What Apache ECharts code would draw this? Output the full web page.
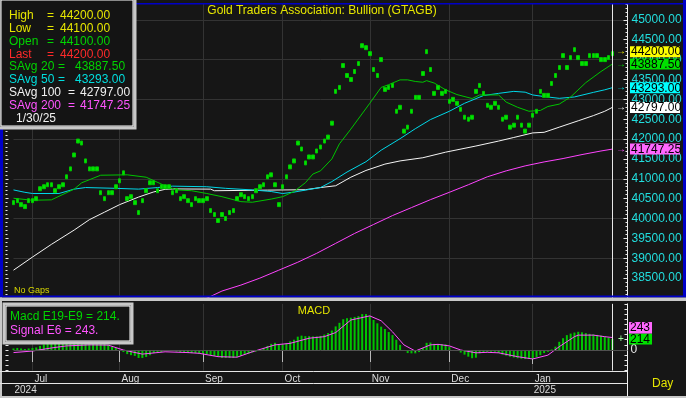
<!DOCTYPE html>
<html>
<head>
<meta charset="utf-8">
<title>Gold Traders Association: Bullion (GTAGB)</title>
<script src="https://cdn.jsdelivr.net/npm/echarts@6/dist/echarts.min.js"></script>
<style>
  html, body { margin: 0; padding: 0; background: #161616; }
  #chart { width: 686px; height: 398px; }
</style>
</head>
<body>
<div id="chart"></div>
<script>
// trading days per month shown on the chart (late Jun 2024 .. 30 Jan 2025)
const monthNames = ['Jun', 'Jul', 'Aug', 'Sep', 'Oct', 'Nov', 'Dec', 'Jan'];
const monthDays = [5, 23, 22, 21, 23, 21, 22, 22];
const yearNames = ['2024', '2025'];
const yearMonth = [0, 7]; // month index where each year label starts
const padDays = 4;

// daily bars (low / high)
const lows = [
  40350, 40400, 40300, 40250, 40400,
  40400, 40450, 40700, 40750, 40800, 40800, 40650, 40750, 40800, 41000, 41200, 41550, 41900, 41850, 41400, 41200, 41200, 41200, 40600, 40450, 40600, 40600, 40750,
  40900, 41100, 40450, 40500, 40350, 40100, 40400, 40650, 40850, 40850, 40650, 40750, 40750, 40750, 40600, 40650, 40450, 40500, 40400, 40300, 40450, 40400,
  40400, 40450, 40150, 40050, 39900, 40050, 39950, 40100, 40150, 40450, 40550, 40500, 40450, 40500, 40650, 40750, 40800, 41000, 41050, 40800, 40300,
  40750, 41000, 41250, 41400, 41850, 41700, 41350, 41500, 41500, 41650, 41750, 41900, 42000, 42350, 43150, 43250, 43800, 43550, 43450, 43650, 43850, 44300, 44250,
  44100, 43700, 43550, 43950, 43200, 43250, 43300, 42650, 42750, 42150, 42250, 42650, 43000, 43000, 43600, 44150, 43700, 43100, 43250, 43100, 43150,
  42900, 42950, 42850, 42700, 42500, 42450, 42500, 43150, 43300, 43100, 42800, 42750, 42850, 42750, 42450, 42500, 42250, 42300, 42500, 42300, 42150, 42300,
  42550, 42650, 43150, 43050, 43050, 43350, 43550, 43750, 44050, 43750, 44000, 44200, 44000, 43850, 43850, 44050, 44050, 44050, 43950, 43950, 44000, 44100
];
const highs = [
  40450, 40500, 40400, 40350, 40500,
  40500, 40550, 40800, 40850, 40900, 40900, 40750, 40850, 40900, 41100, 41300, 41650, 42000, 41950, 41500, 41300, 41300, 41300, 40700, 40550, 40700, 40700, 40850,
  41000, 41200, 40550, 40600, 40450, 40200, 40500, 40750, 40950, 40950, 40750, 40850, 40850, 40850, 40700, 40750, 40550, 40600, 40500, 40400, 40550, 40500,
  40500, 40550, 40250, 40150, 40000, 40150, 40050, 40200, 40250, 40550, 40650, 40600, 40550, 40600, 40750, 40850, 40900, 41100, 41150, 40900, 40400,
  40850, 41100, 41350, 41500, 41950, 41800, 41450, 41600, 41600, 41750, 41850, 42000, 42100, 42450, 43250, 43350, 43900, 43650, 43550, 43750, 43950, 44400, 44350,
  44200, 43800, 43650, 44050, 43300, 43350, 43400, 42750, 42850, 42250, 42350, 42750, 43100, 43100, 43700, 44250, 43800, 43200, 43350, 43200, 43250,
  43000, 43050, 42950, 42800, 42600, 42550, 42600, 43250, 43400, 43200, 42900, 42850, 42950, 42850, 42550, 42600, 42350, 42400, 42600, 42400, 42250, 42400,
  42650, 42750, 43250, 43150, 43150, 43450, 43650, 43850, 44150, 43850, 44100, 44300, 44100, 43950, 43950, 44150, 44150, 44150, 44050, 44050, 44100, 44200
];

// simple averages, read at [bar index, value]
const sAvg20 = [
  [0, 40510], [5, 40460], [10, 40470], [12, 40560], [16, 40740], [18, 40900], [23, 41090], [30, 41100],
  [35, 41040], [40, 40825], [43, 40720], [47, 40700], [51, 40630], [55, 40550], [60, 40425], [63, 40410],
  [68, 40490], [71, 40550], [74, 40680], [77, 40900], [79, 41120], [81, 41200], [84, 41500], [86, 41880],
  [89, 42250], [94, 42900], [97, 43300], [99, 43370], [102, 43490], [104, 43490], [106, 43450], [108, 43430],
  [109, 43470], [111, 43410], [114, 43240], [117, 43120], [121, 43020], [123, 43110], [128, 43110], [130, 42930],
  [133, 42800], [136, 42700], [139, 42720], [141, 42820], [144, 42880], [147, 43060], [151, 43420], [155, 43700],
  [158, 43887.5]
];
const sAvg50 = [
  [0, 40720], [3, 40660], [5, 40630], [12, 40630], [16, 40740], [19, 40780], [27, 40760], [33, 40740],
  [38, 40780], [42, 40815], [51, 40800], [56, 40760], [63, 40720], [68, 40680], [71, 40630], [74, 40665],
  [77, 40715], [81, 40780], [84, 40930], [88, 41170], [93, 41430], [97, 41720], [102, 42010], [106, 42260],
  [110, 42490], [115, 42700], [119, 42900], [124, 43095], [128, 43150], [132, 43200], [135, 43180], [137, 43110],
  [140, 43070], [144, 43025], [148, 43060], [153, 43175], [156, 43240], [158, 43293]
];
const sAvg100 = [
  [0, 38700], [5, 39030], [10, 39350], [16, 39710], [20, 39970], [24, 40160], [28, 40350], [33, 40540],
  [37, 40670], [40, 40735], [42, 40745], [52, 40740], [53, 40700], [67, 40715], [77, 40725], [81, 40780],
  [85, 40825], [89, 41040], [93, 41210], [98, 41370], [102, 41450], [108, 41530], [114, 41670], [122, 41825],
  [128, 41950], [132, 42040], [137, 42155], [140, 42170], [144, 42300], [149, 42460], [153, 42590], [156, 42700],
  [158, 42797]
];
const sAvg200 = [
  [50, 37950], [55, 38175], [60, 38325], [65, 38500], [70, 38700], [75, 38900], [80, 39125], [85, 39375],
  [90, 39625], [95, 39850], [100, 40075], [105, 40275], [110, 40475], [115, 40660], [120, 40850], [125, 41050],
  [130, 41200], [135, 41325], [140, 41425], [145, 41510], [150, 41610], [155, 41700], [158, 41747.25]
];

// MACD histogram (one per bar) and signal line
const macd = [
  30, 40, 30, 20, 30,
  40, 50, 80, 110, 130, 140, 120, 120, 130, 170, 230, 310, 400, 430, 400, 370, 330, 300, 240, 150, 100, 60, 40,
  -10, -40, -80, -100, -115, -155, -155, -135, -100, -60, -40, -40, -20, -20, -20, -30, -40, -40, -60, -60, -60, -70,
  -70, -80, -100, -115, -135, -155, -155, -155, -155, -135, -115, -90, -70, -50, -30, 0, 40, 80, 120, 140, 110,
  110, 130, 170, 200, 260, 280, 270, 270, 265, 265, 275, 300, 330, 380, 460, 530, 600, 620, 630, 645, 660, 700, 700,
  660, 585, 520, 455, 410, 350, 290, 200, 100, -10, -60, -65, -65, -40, 40, 140, 145, 120, 115, 115, 110,
  60, 0, -20, -50, -90, -130, -160, -150, -65, -40, -35, -35, -35, -60, -90, -110, -130, -145, -160, -170, -175, -175,
  -175, -140, -100, -60, -35, 10, 65, 160, 230, 290, 320, 340, 355, 345, 330, 315, 305, 295, 280, 260, 240, 214
];
const signal = [
  [0, -50], [5, -20], [10, 40], [14, 80], [20, 100], [25, 95], [29, 0], [34, -80], [40, -35], [46, -50],
  [49, -65], [54, -130], [59, -140], [63, -35], [69, 100], [73, 130], [78, 230], [82, 260], [85, 340], [89, 585],
  [94, 665], [97, 570], [100, 355], [103, 100], [106, -20], [110, 100], [112, 110], [115, 80], [118, 0], [122, -55],
  [125, -45], [128, -55], [133, -130], [137, -175], [141, -100], [144, 65], [148, 260], [149, 290], [153, 290],
  [156, 260], [158, 243]
];

// data window text
const legendRows = [
  ['High', '', '44200.00', '#e6e600'],
  ['Low', '', '44100.00', '#e6e600'],
  ['Open', '', '44100.00', '#00d400'],
  ['Last', '', '44200.00', '#ff2a2a'],
  ['SAvg', '20', '43887.50', '#00d400'],
  ['SAvg', '50', '43293.00', '#00dede'],
  ['SAvg', '100', '42797.00', '#f0f0f0'],
  ['SAvg', '200', '41747.25', '#ff55ff']
];
const legendDate = '1/30/25';
const lastTags = [
  [44200.00, '#ffff00'],
  [43887.50, '#00e000'],
  [43293.00, '#00ffff'],
  [42797.00, '#ffffff'],
  [41747.25, '#ff66ff']
];
const macdLast = 214;
const signalLast = 243;

const FONT = "'Liberation Sans', Arial, sans-serif";
const BG = '#161616';
const GRID = '#333333';

// categories
const cats = [];
const monthStart = new Set();
const monthOf = [];
monthDays.forEach((n, m) => {
  for (let d = 0; d < n; d++) {
    if (d === 0 && m > 0) monthStart.add(cats.length);
    monthOf.push(m);
    cats.push(monthNames[m] + '-' + (d + 1) + '-' + m);
  }
});
const lastIdx = cats.length - 1;
for (let k = 0; k < padDays; k++) { cats.push('pad' + k); monthOf.push(-1); }
const yearStart = {};
yearMonth.forEach((m, k) => {
  const idx = monthOf.indexOf(m);
  yearStart[idx] = yearNames[k];
});

const chart = echarts.init(document.getElementById('chart'));

const hiddenAxis = { axisLine: { show: false }, axisTick: { show: false }, axisLabel: { show: false }, splitLine: { show: false } };
const tickStyle = { color: '#e8e8e8', width: 1 };

chart.setOption({
  animation: false,
  backgroundColor: BG,
  grid: [
    { left: 13.5, width: 614, top: -2, height: 300 },
    { left: 13.5, width: 614, top: 303.85, height: 66.67 }
  ],
  xAxis: [
    {
      type: 'category', gridIndex: 0, data: cats, boundaryGap: false,
      axisLine: { show: false }, axisTick: { show: false }, axisLabel: { show: false },
      splitLine: { show: true, interval: (i) => monthStart.has(i), lineStyle: { color: GRID } }
    },
    {
      type: 'category', gridIndex: 1, data: cats, boundaryGap: false, position: 'bottom',
      axisLine: { show: false },
      axisTick: { show: true, interval: (i) => monthStart.has(i), length: 12, lineStyle: { color: '#b8b8b8' } },
      axisLabel: {
        show: true, interval: (i) => monthStart.has(i), formatter: (v, i) => monthNames[monthOf[i]],
        align: 'left', margin: 4, padding: [0, 0, 0, 2], color: '#dcdcdc', fontSize: 10, fontFamily: FONT
      },
      splitLine: { show: true, interval: (i) => monthStart.has(i), lineStyle: { color: GRID } }
    },
    {
      type: 'category', gridIndex: 1, data: cats, boundaryGap: false, position: 'bottom', offset: 13,
      axisLine: { show: false },
      axisTick: { show: true, interval: (i) => yearStart[i] !== undefined && i > 0, length: 14, lineStyle: { color: '#b8b8b8' } },
      axisLabel: {
        show: true, interval: (i) => yearStart[i] !== undefined, formatter: (v, i) => yearStart[i] || '',
        align: 'left', margin: 2, padding: [0, 0, 0, 1], color: '#dcdcdc', fontSize: 10, fontFamily: FONT
      },
      splitLine: { show: false }
    }
  ],
  yAxis: [
    {
      type: 'value', gridIndex: 0, position: 'right', min: 38000, max: 45500, interval: 500,
      axisLine: { show: true, lineStyle: { color: '#f0f0f0' } },
      axisTick: { show: true, inside: true, length: 4, lineStyle: tickStyle },
      minorTick: { show: true, splitNumber: 5, length: 2, lineStyle: tickStyle },
      axisLabel: {
        show: true, margin: 4, showMinLabel: false, showMaxLabel: false,
        formatter: (v) => v.toFixed(2), color: '#22dede', fontSize: 12, fontFamily: FONT
      },
      splitLine: { show: false }
    },
    Object.assign({ type: 'value', gridIndex: 0, position: 'right', min: 38000, max: 45500, interval: 1000 }, hiddenAxis,
      { splitLine: { show: true, lineStyle: { color: GRID } } }),
    {
      type: 'value', gridIndex: 0, position: 'left', offset: 8, min: 38000, max: 45500, interval: 500,
      axisLine: { show: false },
      axisTick: { show: true, inside: true, length: 3, lineStyle: tickStyle },
      minorTick: { show: true, splitNumber: 5, length: 2, lineStyle: tickStyle },
      axisLabel: { show: false }, splitLine: { show: false }
    },
    {
      type: 'value', gridIndex: 1, position: 'right', min: -400, max: 900, interval: 100,
      axisLine: { show: true, lineStyle: { color: '#f0f0f0' } },
      axisTick: { show: true, inside: true, length: 3, lineStyle: tickStyle },
      axisLabel: { show: true, margin: 3, formatter: (v) => (v === 0 ? '0' : ''), color: '#e8e8e8', fontSize: 12, fontFamily: FONT },
      splitLine: { show: false }
    },
    {
      type: 'value', gridIndex: 1, position: 'left', offset: 8, min: -400, max: 900, interval: 100,
      axisLine: { show: false },
      axisTick: { show: true, inside: true, length: 3, lineStyle: tickStyle },
      axisLabel: { show: false }, splitLine: { show: false }
    }
  ],
  series: [
    { type: 'line', name: 'SAvg 200', xAxisIndex: 0, yAxisIndex: 0, data: sAvg200, symbol: 'none', z: 2, lineStyle: { color: '#ff44ff', width: 1 } },
    { type: 'line', name: 'SAvg 100', xAxisIndex: 0, yAxisIndex: 0, data: sAvg100, symbol: 'none', z: 2, lineStyle: { color: '#f4f4f4', width: 1 } },
    { type: 'line', name: 'SAvg 50', xAxisIndex: 0, yAxisIndex: 0, data: sAvg50, symbol: 'none', z: 2, lineStyle: { color: '#00d8e8', width: 1 } },
    { type: 'line', name: 'SAvg 20', xAxisIndex: 0, yAxisIndex: 0, data: sAvg20, symbol: 'none', z: 2, lineStyle: { color: '#00c400', width: 1 } },
    {
      type: 'candlestick', name: 'GTAGB', xAxisIndex: 0, yAxisIndex: 0, z: 3,
      data: lows.map((lo, i) => [lo, highs[i], lo, highs[i]]),
      barWidth: 3,
      itemStyle: { color: '#00e400', color0: '#00e400', borderColor: '#00c800', borderColor0: '#00c800', borderWidth: 1 },
      markLine: {
        silent: true, symbol: ['none', 'none'], label: { show: false },
        lineStyle: { color: '#e8e8e8', width: 1, type: 'solid' },
        data: [{ xAxis: cats[lastIdx] }]
      }
    },
    {
      type: 'bar', name: 'Macd E19-E9', xAxisIndex: 1, yAxisIndex: 3, data: macd, barWidth: 2, z: 2,
      itemStyle: { color: '#00c400' },
      markLine: {
        silent: true, symbol: ['none', 'none'], label: { show: false },
        data: [
          { xAxis: cats[lastIdx], lineStyle: { color: '#e8e8e8', width: 1, type: 'solid' } },
          { yAxis: 0, lineStyle: { color: '#505050', width: 1, type: 'solid' } }
        ]
      }
    },
    { type: 'line', name: 'Signal E6', xAxisIndex: 1, yAxisIndex: 3, data: signal, symbol: 'none', z: 3, lineStyle: { color: '#ff50ff', width: 1 } }
  ]
});

// overlays: frames, data window, last value tags
function txt(x, y, text, color, size, align) {
  return {
    type: 'text', x: x, y: y, z: 130, silent: true,
    style: { text: text, fill: color, font: (size || 12) + 'px ' + FONT, align: align || 'left', verticalAlign: 'middle' }
  };
}
function box(x, y, w, h, fill, z) {
  return { type: 'rect', z: z || 100, silent: true, shape: { x: x, y: y, width: w, height: h }, style: { fill: fill } };
}
function frame(x, y, w, h) {
  return [
    { type: 'rect', z: 110, silent: true, shape: { x: x, y: y, width: w, height: h }, style: { fill: '#141414', stroke: '#c8c8c8', lineWidth: 3 } },
    { type: 'rect', z: 111, silent: true, shape: { x: x + 2, y: y + 2, width: w - 4, height: h - 4 }, style: { fill: 'none', stroke: '#ffffff', lineWidth: 1 } }
  ];
}

const g = [];
// main panel border and lower panel border
g.push(box(0, 0, 686, 3, BG));
g.push(box(0, 3, 686, 1.5, '#0000c8'));
g.push(box(0, 0, 3, 297, '#0000c8'));
g.push(box(683, 0, 3, 297, '#0000c8'));
g.push(box(0, 295.5, 686, 2, '#0000c8'));
g.push(box(0, 297.5, 686, 3.5, '#c8c8c8'));
g.push(box(0, 297.5, 2, 101, '#c8c8c8'));
g.push(box(0, 396, 686, 2, '#c8c8c8'));
// date rows
g.push({ type: 'line', z: 100, silent: true, shape: { x1: 0, y1: 371.5, x2: 627.5, y2: 371.5 }, style: { stroke: '#e6e6e6', lineWidth: 1 } });
g.push({ type: 'line', z: 100, silent: true, shape: { x1: 0, y1: 383.5, x2: 627.5, y2: 383.5 }, style: { stroke: '#e6e6e6', lineWidth: 1 } });
g.push({ type: 'line', z: 100, silent: true, shape: { x1: 627.5, y1: 370, x2: 627.5, y2: 396 }, style: { stroke: '#f0f0f0', lineWidth: 1 } });

// titles
g.push(txt(322, 11, 'Gold Traders Association: Bullion (GTAGB)', '#e6e600', 12, 'center'));
g.push(txt(314, 311, 'MACD', '#e6e600', 11, 'center'));
g.push(txt(14, 291, 'No Gaps', '#d8d800', 9));
g.push(txt(652, 384, 'Day', '#e6e600', 12));

// data window
frame(-1, -2, 136, 130).forEach((e) => g.push(e));
legendRows.forEach((r, k) => {
  const y = 15.5 + 12.9 * k;
  const eqX = r[1] === '' ? 47 : (r[1].length > 2 ? 68 : 58);
  const valX = r[1] === '' ? 60 : (r[1].length > 2 ? 80 : 75);
  g.push(txt(9, y, r[0], r[3]));
  if (r[1]) g.push(txt(41, y, r[1], r[3]));
  g.push(txt(eqX, y, '=', r[3]));
  g.push(txt(valX, y, r[2], r[3]));
});
g.push(txt(16, 15.5 + 12.9 * 8, legendDate, '#f0f0f0'));

// MACD window
frame(4, 304, 128, 39).forEach((e) => g.push(e));
g.push(txt(10, 317, 'Macd E19-E9 = ' + macdLast + '.', '#00d400'));
g.push(txt(10, 331, 'Signal E6 = ' + signalLast + '.', '#ff55ff'));

// last value tags on the price axis
const arrowColors = ['#e6e600', '#00d400', '#00dede', '#f0f0f0', '#ff55ff'];
lastTags.forEach(([v, bg], k) => {
  const y = chart.convertToPixel({ yAxisIndex: 0 }, v);
  g.push(txt(616, y, '→', arrowColors[k], 10));
  g.push(box(630, y - 5.5, 50, 11, bg, 120));
  g.push(txt(631, y + 0.5, v.toFixed(2), '#000000', 12));
});

// MACD tags
const yMacd = chart.convertToPixel({ yAxisIndex: 3 }, macdLast);
g.push(txt(618, yMacd, '+', '#a0ffa0', 10));
g.push(box(629, yMacd - 5.5, 23, 11, '#00e000', 120));
g.push(txt(630, yMacd + 0.5, String(macdLast), '#000000', 12));
g.push(box(629, yMacd - 17, 23, 11.5, '#ff66ff', 120));
g.push(txt(630, yMacd - 11, String(signalLast), '#000000', 12));

chart.setOption({ graphic: g });
</script>
</body>
</html>
